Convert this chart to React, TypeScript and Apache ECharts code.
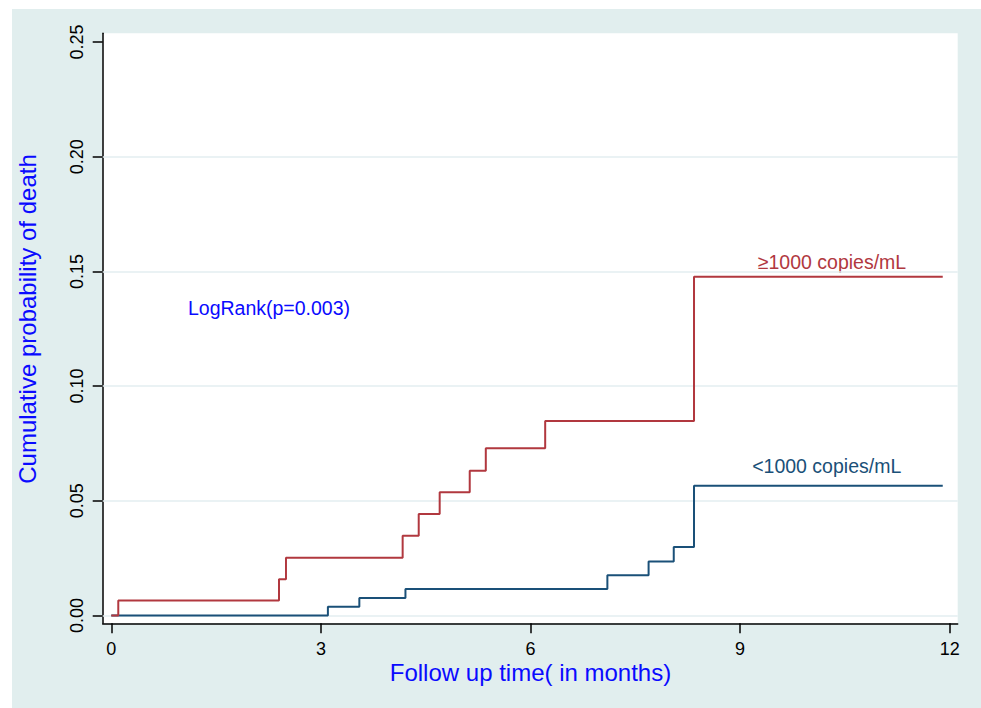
import React, { useEffect, useRef } from "react";
import * as echarts from "echarts";

// ---- data ----
const highTimes = [0, 0.1, 2.4, 2.5, 4.17, 4.4, 4.7, 5.13, 5.36, 6.21, 8.34, 11.9];
const highValues = [0, 0.0065, 0.0158, 0.0252, 0.0348, 0.0442, 0.0537, 0.0631, 0.0729, 0.0848, 0.1477, 0.1477];
const lowTimes = [0, 3.1, 3.55, 4.21, 7.1, 7.69, 8.05, 8.34, 11.9];
const lowValues = [0, 0.0038, 0.0076, 0.0116, 0.0175, 0.0235, 0.0299, 0.0566, 0.0566];
const xTicks = [0, 3, 6, 9, 12];
const yTicks = [0, 0.05, 0.1, 0.15, 0.2, 0.25];
const yGridLines = [0, 0.05, 0.1, 0.15, 0.2];
const highLabel = "≥1000 copies/mL";
const lowLabel = "<1000 copies/mL";
const testLabel = "LogRank(p=0.003)";
const xTitle = "Follow up time( in months)";
const yTitle = "Cumulative probability of death";

const RED = "#b1383f";
const BLUE = "#1a5078";
const BG = "#e1eeee";
const TITLE_BLUE = "#0a0aff";
const FONT = "'Liberation Sans', Arial, sans-serif";

export default function App() {
  const ref = useRef<HTMLDivElement>(null);
  useEffect(() => {
    if (!ref.current) return;
    const chart = echarts.init(ref.current, undefined, { renderer: "svg" });
    const highData = highTimes.map((t, i) => [t, highValues[i]]);
    const lowData = lowTimes.map((t, i) => [t, lowValues[i]]);
    chart.setOption({
      animation: false,
      backgroundColor: BG,
      textStyle: { fontFamily: FONT },
      grid: {
        left: 102.7,
        top: 33.3,
        right: 23.3,
        bottom: 84.7,
        show: true,
        backgroundColor: "#ffffff",
        borderWidth: 0,
      },
      xAxis: {
        type: "value",
        min: -0.123,
        max: 12.114,
        axisLine: { show: true, onZero: false, lineStyle: { color: "#000", width: 1.5 } },
        axisTick: { show: true, length: 10, customValues: xTicks, lineStyle: { color: "#000", width: 1.5 } },
        axisLabel: {
          customValues: xTicks,
          color: "#000",
          fontSize: 18,
          fontFamily: FONT,
          margin: 17,
        },
        splitLine: { show: false },
      },
      yAxis: {
        type: "value",
        min: -0.0034,
        max: 0.2538,
        axisLine: { show: true, onZero: false, lineStyle: { color: "#000", width: 1.5 } },
        axisTick: { show: true, length: 10, customValues: yTicks, lineStyle: { color: "#000", width: 1.5 } },
        axisLabel: {
          customValues: yTicks,
          rotate: 90,
          color: "#000",
          fontSize: 18,
          fontFamily: FONT,
          margin: 17,
          formatter: (v: number) => v.toFixed(2),
        },
        splitLine: { show: false },
      },
      series: [
        {
          type: "line",
          name: lowLabel,
          step: "end",
          data: lowData,
          showSymbol: false,
          z: 3,
          lineStyle: { color: BLUE, width: 2 },
          itemStyle: { color: BLUE },
          markLine: {
            z: 1,
            silent: true,
            symbol: ["none", "none"],
            label: { show: false },
            lineStyle: { color: "#e3eef0", width: 1.5, type: "solid" },
            data: yGridLines.map((v) => ({ yAxis: v })),
          },
        },
        {
          type: "line",
          name: highLabel,
          step: "end",
          data: highData,
          showSymbol: false,
          z: 4,
          lineStyle: { color: RED, width: 2 },
          itemStyle: { color: RED },
        },
      ],
      graphic: [
        { type: "rect", shape: { x: 0, y: 0, width: 12, height: 708 }, style: { fill: "#ffffff" }, silent: true },
        { type: "rect", shape: { x: 0, y: 0, width: 981, height: 9 }, style: { fill: "#ffffff" }, silent: true },
        {
          type: "text",
          x: 27,
          y: 319,
          rotation: Math.PI / 2,
          style: {
            text: yTitle,
            fill: TITLE_BLUE,
            font: `24px ${FONT}`,
            align: "center",
            verticalAlign: "middle",
          },
        },
        {
          type: "text",
          x: 530.5,
          y: 672,
          style: {
            text: xTitle,
            fill: TITLE_BLUE,
            font: `24px ${FONT}`,
            align: "center",
            verticalAlign: "middle",
          },
        },
        {
          type: "text",
          x: 269,
          y: 308,
          style: {
            text: testLabel,
            fill: TITLE_BLUE,
            font: `19.5px ${FONT}`,
            align: "center",
            verticalAlign: "middle",
          },
        },
        {
          type: "text",
          x: 832,
          y: 262,
          style: {
            text: highLabel,
            fill: RED,
            font: `19.5px ${FONT}`,
            align: "center",
            verticalAlign: "middle",
          },
        },
        {
          type: "text",
          x: 826.7,
          y: 466,
          style: {
            text: lowLabel,
            fill: BLUE,
            font: `19.5px ${FONT}`,
            align: "center",
            verticalAlign: "middle",
          },
        },
      ],
    });
    return () => chart.dispose();
  }, []);
  return (
    <div
      ref={ref}
      style={{ position: "fixed", left: 0, top: 0, width: 981, height: 708 }}
    />
  );
}
